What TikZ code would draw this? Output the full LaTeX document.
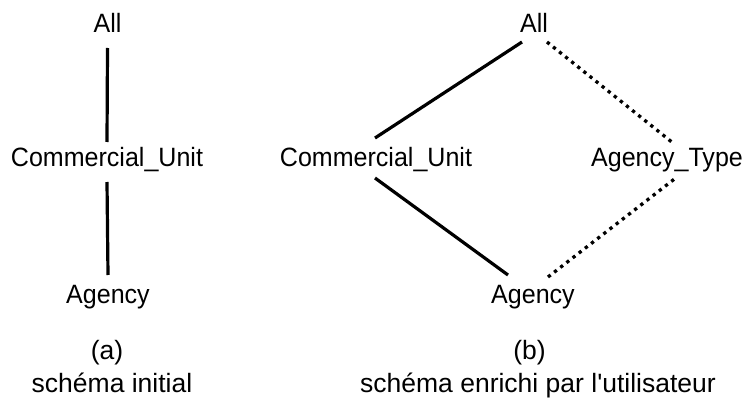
\documentclass[tikz,border=0pt]{standalone}
\usepackage{fontspec}
\usepackage{graphicx}
\setmainfont{Liberation Sans}[Ligatures=TeXOff]
\tikzset{
  lbl/.style={anchor=base, inner sep=0pt, text height=19pt, text depth=5pt,
    font=\fontsize{26.5}{30}\selectfont},
  captxt/.style={anchor=base, inner sep=0pt, font=\fontsize{26.5}{30}\selectfont},
  solidedge/.style={line width=3.2pt},
  dotedge/.style={line width=3.3pt, dash pattern=on 3.3pt off 4.5pt},
}
\newcommand{\lbltext}[1]{\scalebox{0.945}[1]{#1}}
\begin{document}
\begin{tikzpicture}[x=1pt,y=-1pt]
\useasboundingbox (0,0) rectangle (747,401);
% (a)
\node[lbl] (allL) at (107.5,33) {\lbltext{All}};
\node[lbl] (cuL) at (107,167) {\lbltext{Commercial\_Unit}};
\node[lbl] (agL) at (108,303) {\lbltext{Agency}};
\node[captxt] (capaA) at (107,359.5) {(a)};
\node[captxt] (capaB) at (112,392) {schéma initial};
\draw[solidedge] ([yshift=-15pt]allL.base) -- ([yshift=25pt]cuL.base);
\draw[solidedge] ([yshift=-15pt]cuL.base) -- ([yshift=28pt]agL.base);
% (b)
\node[lbl] (allR) at (534,33) {\lbltext{All}};
\node[lbl] (cuR) at (376,167) {\lbltext{Commercial\_Unit}};
\node[lbl] (agR) at (533,303) {\lbltext{Agency}};
\node[lbl] (atR) at (667,167) {\lbltext{Agency\_Type}};
\node[captxt] (capbA) at (529.5,359.5) {(b)};
\node[captxt] (capbB) at (538,392) {schéma enrichi par l'utilisateur};
\draw[solidedge] ([xshift=-12pt,yshift=-9pt]allR.base) -- ([xshift=-1pt,yshift=29pt]cuR.base);
\draw[solidedge] ([xshift=-1pt,yshift=-11pt]cuR.base) -- ([xshift=-25pt,yshift=28pt]agR.base);
\draw[dotedge] ([xshift=13pt,yshift=-9pt]allR.base) -- ([xshift=6pt,yshift=24pt]atR.base);
\draw[dotedge] ([xshift=15pt,yshift=26pt]agR.base) -- ([xshift=10pt,yshift=-10pt]atR.base);
\end{tikzpicture}
\end{document}
